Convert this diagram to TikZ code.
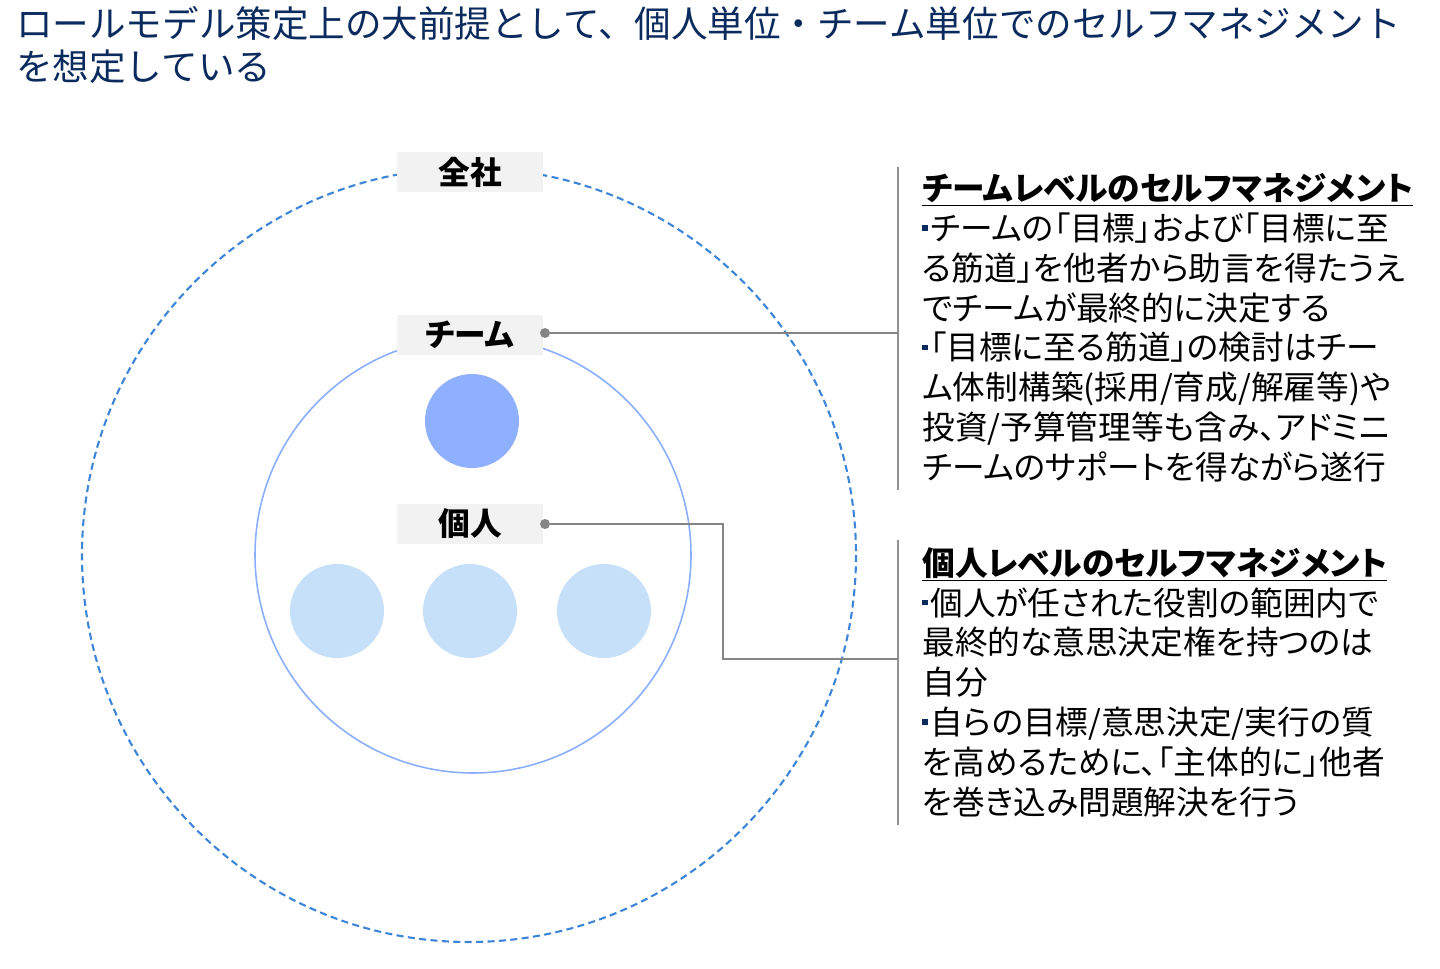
\documentclass[tikz,border=0pt]{standalone}
\usepackage{fontspec}
\setmainfont[RawFeature=+palt]{Noto Sans CJK JP}
\newfontfamily\titlefont{Noto Sans CJK JP}
\usepackage{tikz}
\usetikzlibrary{positioning,calc}
\definecolor{TitleNavy}{HTML}{0B2A5E}
\definecolor{DashBlue}{HTML}{3D85D6}
\definecolor{RingBlue}{HTML}{8AAEFF}
\definecolor{TeamBlue}{HTML}{8FAFFF}
\definecolor{SoftBlue}{HTML}{C6E0F9}
\definecolor{LabelGray}{HTML}{F2F2F2}
\definecolor{LineGray}{HTML}{858585}
\newcommand{\blt}{\textcolor{TitleNavy}{\rule[0.3em]{0.17em}{0.17em}}\kern0.08em}

\begin{document}
\begin{tikzpicture}[x=0.02cm, y=-0.02cm,
  every node/.style={inner sep=0pt},
  tag/.style={fill=LabelGray, minimum width=2.92cm, minimum height=0.8cm, font=\fontsize{18}{20}\selectfont\bfseries},
  dot/.style={circle, fill=LineGray, minimum size=0.2cm},
  body/.style={align=left, anchor=north west, font=\fontsize{18.6}{22.7}\selectfont},
  link/.style={LineGray, line width=1.1pt},
  bar/.style={LineGray!90, line width=1.6pt}]
  \useasboundingbox (0,0) rectangle (1440,969);
  % title
  \node[anchor=north west, align=left, text=TitleNavy, font=\titlefont\fontsize{20.8}{24.4}\selectfont] (title) at (16,6)
    {ロールモデル策定上の大前提として、個人単位・チーム単位でのセルフマネジメント\\を想定している};
  % circles
  \draw[DashBlue, line width=1.2pt, dash pattern=on 4pt off 2.5pt] (469,555) circle (387);
  \draw[RingBlue, line width=0.9pt] (473,555) circle (218);
  \node[circle, fill=TeamBlue, minimum size=1.88cm] (team) at (472,421) {};
  \foreach \x/\n in {337/p1, 470/p2, 604/p3}
    \node[circle, fill=SoftBlue, minimum size=1.88cm] (\n) at (\x,611) {};
  % labels
  \node[tag] (whole) at (470,172) {全社};
  \node[tag] (teamtag) at (470,335) {チーム};
  \node[tag] (persontag) at (470,524) {個人};
  \node[dot] (teamdot) at (545,333) {};
  \node[dot] (persondot) at (545,524) {};
  % side bars
  \coordinate (bar1top) at (898,167);
  \coordinate (bar1bot) at (898,490);
  \coordinate (bar2top) at (898,540);
  \coordinate (bar2bot) at (898,825);
  \draw[bar] (bar1top) -- (bar1bot);
  \draw[bar] (bar2top) -- (bar2bot);
  \draw[link] (teamdot) -- (teamdot -| bar1top);
  \draw[link] (persondot) -- (723,524) -- (723,659) -- (723,659 -| bar2top);
  % texts
  \node[body] (teamtext) at (922,173)
    {\textbf{\underline{チームレベルのセルフマネジメント}}\\
     \blt チームの「目標」および「目標に至\\
     る筋道」を他者から助言を得たうえ\\
     でチームが最終的に決定する\\
     \blt「目標に至る筋道」の検討はチー\\
     ム体制構築(採用/育成/解雇等)や\\
     投資/予算管理等も含み、アドミニ\\
     チームのサポートを得ながら遂行};
  \node[body] (persontext) at (922,547)
    {\textbf{\underline{個人レベルのセルフマネジメント}}\\
     \blt 個人が任された役割の範囲内で\\
     最終的な意思決定権を持つのは\\
     自分\\
     \blt 自らの目標/意思決定/実行の質\\
     を高めるために、「主体的に」他者\\
     を巻き込み問題解決を行う};
\end{tikzpicture}
\end{document}
